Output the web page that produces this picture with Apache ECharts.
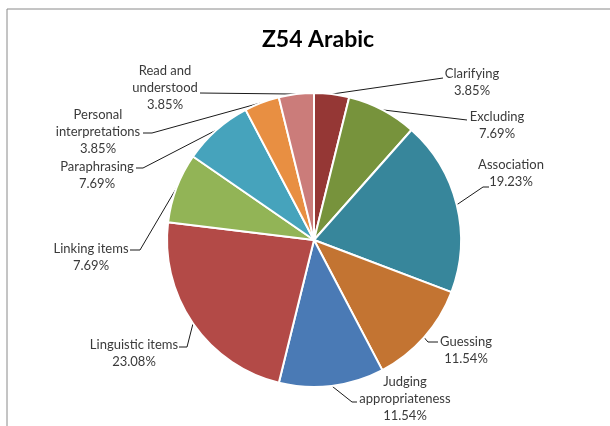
<!DOCTYPE html>
<html>
<head>
<meta charset="utf-8">
<script src="https://cdn.jsdelivr.net/npm/echarts@6/dist/echarts.min.js"></script>
<style>
  html, body { margin: 0; padding: 0; background: #fff; }
  #main { width: 610px; height: 426px; }
</style>
</head>
<body>
<div id="main"></div>
<script>
// chart data
var categories = ['Clarifying', 'Excluding', 'Association', 'Guessing', 'Judging\nappropriateness',
  'Linguistic items', 'Linking items', 'Paraphrasing', 'Personal\ninterpretations', 'Read and\nunderstood'];
var percents = [3.85, 7.69, 19.23, 11.54, 11.54, 23.08, 7.69, 7.69, 3.85, 3.85];

var colors = ['#953735', '#77933C', '#37869B', '#C37432', '#4A7AB5',
  '#B34A47', '#92B456', '#46A3BC', '#E88F42', '#CB7C7A'];

// where each label sits (text centre), and the leader line bend / end
var spots = [
  { x: 472, y: 82,  bend: [443, 78],  end: [443, 78] },
  { x: 497, y: 125, bend: [467, 120], end: [467, 120] },
  { x: 511, y: 173, bend: [483, 187], end: [489, 187] },
  { x: 466, y: 350, bend: [428, 342], end: [438, 342] },
  { x: 405, y: 399, bend: [352, 402], end: [357, 402] },
  { x: 134, y: 353, bend: [187, 347], end: [179, 347] },
  { x: 91,  y: 257, bend: [140, 250], end: [130, 250] },
  { x: 97,  y: 175, bend: [143, 168], end: [136, 168] },
  { x: 98,  y: 132, bend: [152, 133], end: [143, 133] },
  { x: 165, y: 88,  bend: [200, 93],  end: [200, 93] }
];

var myChart = echarts.init(document.getElementById('main'));

var pieData = categories.map(function(name, i) {
  return {
    name: name,
    value: percents[i],
    itemStyle: { color: colors[i] }
  };
});

var option = {
  animation: false,
  textStyle: { fontFamily: 'Lato' },
  graphic: [{
    type: 'rect',
    shape: { x: 7, y: 9, width: 640, height: 460 },
    style: { fill: 'none', stroke: '#8a8a8a', lineWidth: 1 },
    silent: true
  }],
  title: {
    text: 'Z54 Arabic',
    left: 313,
    top: 23,
    textAlign: 'center',
    textStyle: { fontFamily: 'Lato', fontWeight: 'bold', fontSize: 23, color: '#000' }
  },
  series: [{
    type: 'pie',
    center: [314, 240],
    radius: 147,
    startAngle: 90,
    clockwise: true,
    avoidLabelOverlap: false,
    itemStyle: { borderColor: '#fff', borderWidth: 2 },
    emphasis: { disabled: true },
    label: {
      show: true,
      position: 'outside',
      formatter: '{b}\n{c}%',
      fontFamily: 'Lato',
      fontSize: 13,
      lineHeight: 17,
      color: '#3a3a3a',
      align: 'center'
    },
    labelLine: {
      show: true,
      lineStyle: { color: '#1a1a1a', width: 1 }
    },
    labelLayout: function(params) {
      var s = spots[params.dataIndex];
      var start = params.labelLinePoints ? params.labelLinePoints[0] : s.bend;
      return {
        x: s.x,
        y: s.y,
        align: 'center',
        verticalAlign: 'middle',
        labelLinePoints: [start, s.bend, s.end]
      };
    },
    data: pieData
  }]
};

myChart.setOption(option);
</script>
</body>
</html>
